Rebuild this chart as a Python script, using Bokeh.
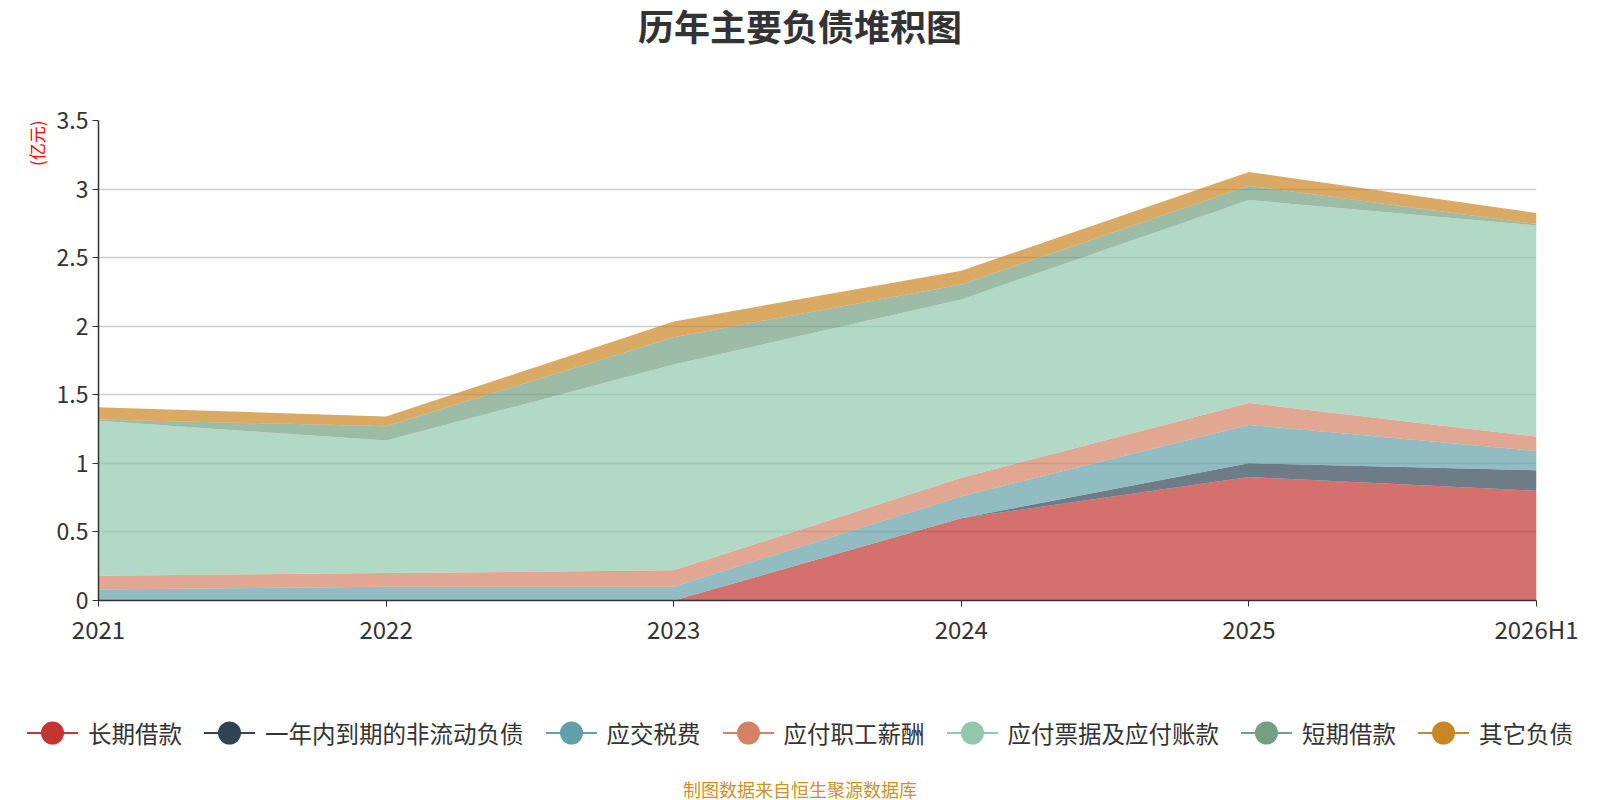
from bokeh.embed import file_html
from bokeh.layouts import column
from bokeh.models import (ColumnDataSource, Div, FixedTicker, NumeralTickFormatter,
                          Range1d, Title)
from bokeh.plotting import figure
from bokeh.resources import INLINE

# categories on the x axis
years = ["2021", "2022", "2023", "2024", "2025", "2026H1"]

# stacked liabilities, bottom to top (亿元)
long_loans = [0.0, 0.0, 0.0, 0.60, 0.90, 0.80]
current_noncurrent = [0.0, 0.0, 0.0, 0.0, 0.10, 0.15]
taxes_payable = [0.08, 0.10, 0.10, 0.16, 0.28, 0.14]
salaries_payable = [0.10, 0.10, 0.12, 0.135, 0.16, 0.105]
notes_accounts_payable = [1.13, 0.966, 1.50, 1.30, 1.48, 1.54]
short_loans = [0.01, 0.105, 0.20, 0.11, 0.105, 0.01]
other_liabilities = [0.09, 0.07, 0.115, 0.10, 0.10, 0.08]

names = ["长期借款", "一年内到期的非流动负债", "应交税费", "应付职工薪酬",
         "应付票据及应付账款", "短期借款", "其它负债"]
colors = ["#c23531", "#2f4554", "#61a0a8", "#d48265",
          "#91c7ae", "#749f83", "#ca8622"]

FONT = "Noto Sans CJK SC"

keys = ["s0", "s1", "s2", "s3", "s4", "s5", "s6"]
series = [long_loans, current_noncurrent, taxes_payable, salaries_payable,
          notes_accounts_payable, short_loans, other_liabilities]
data = {"x": list(range(len(years)))}
for k, s in zip(keys, series):
    data[k] = s
source = ColumnDataSource(data)

# title on top
head = Div(
    text=(f'<div style="width:1584px;padding-left:16px;box-sizing:border-box;text-align:center;'
          f'font-family:\'{FONT}\';font-size:36px;font-weight:bold;color:#333333;'
          'line-height:50px;">历年主要负债堆积图</div>'),
    width=1584, height=50, margin=0,
)

# main chart
p = figure(
    width=1584, height=605,
    x_range=Range1d(0, len(years) - 1), y_range=Range1d(0, 3.5),
    output_backend="svg", toolbar_location=None,
    min_border_left=98, min_border_right=48,
    min_border_top=70, min_border_bottom=55,
)
p.title.visible = False
p.outline_line_color = None

# stacked areas
p.varea_stack(stackers=keys, x="x", color=colors, fill_alpha=0.7, source=source)

# unit label on the left
p.add_layout(Title(text="(亿元)", align="right", text_font=FONT, text_font_size="17px",
                   text_font_style="normal", text_color="red"), "left")

# axes
p.xaxis.ticker = FixedTicker(ticks=list(range(len(years))))
p.xaxis.major_label_overrides = {i: y for i, y in enumerate(years)}
p.yaxis.ticker = FixedTicker(ticks=[0, 0.5, 1, 1.5, 2, 2.5, 3, 3.5])
p.yaxis.formatter = NumeralTickFormatter(format="0.[0]")
for ax in (p.xaxis, p.yaxis):
    ax.major_label_text_font = FONT
    ax.major_label_text_font_size = "23px"
    ax.major_label_text_color = "#333333"
    ax.axis_line_color = "#333333"
    ax.axis_line_width = 1.5
    ax.major_tick_line_color = "#333333"
    ax.major_tick_in = 0
    ax.major_tick_out = 6
    ax.minor_tick_line_color = None
p.xaxis.major_label_text_font_size = "24px"
p.xaxis.major_label_standoff = 4
p.yaxis.major_label_standoff = 4

p.xgrid.grid_line_color = None
p.ygrid.grid_line_color = "#cccccc"
p.ygrid.grid_line_width = 1.5

# legend (line + circle icons) and source note below the chart
entries = []
for i, (name, c) in enumerate(zip(names, colors)):
    gap = "0" if i == len(names) - 1 else "22px"
    entries.append(
        f'<span style="display:inline-flex;align-items:center;margin-right:{gap};">'
        f'<svg width="51" height="24" style="display:block">'
        f'<line x1="0" y1="12" x2="51" y2="12" stroke="{c}" stroke-width="2"/>'
        f'<circle cx="25.5" cy="12" r="11.5" fill="{c}"/></svg>'
        f'<span style="margin-left:10px">{name}</span></span>'
    )
html = (
    f'<div style="width:1584px;padding-left:16px;box-sizing:border-box;'
    f'font-family:\'{FONT}\';color:#333333;">'
    '<div style="display:flex;justify-content:center;align-items:center;'
    'height:30px;margin-top:63px;font-size:23.5px;line-height:30px;white-space:nowrap;">'
    + "".join(entries) +
    '</div>'
    '<div style="text-align:center;font-size:18px;line-height:18px;margin-top:32px;'
    'color:#c8922a;">制图数据来自恒生聚源数据库</div>'
    '</div>'
)
notes = Div(text=html, width=1584, height=141, margin=0)

open("out.html", "w").write(file_html(column(head, p, notes), INLINE))
